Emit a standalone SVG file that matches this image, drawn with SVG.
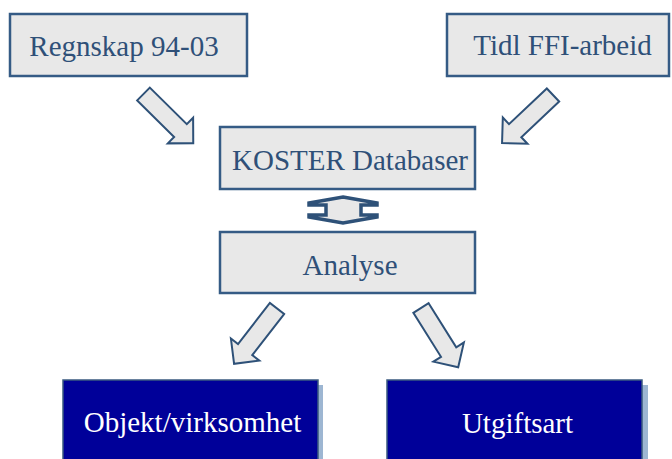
<svg xmlns="http://www.w3.org/2000/svg" width="672" height="459" viewBox="0 0 672 459">
<style>
.gbox{fill:#e8e8e8;stroke:#355b85;stroke-width:2.5}
.gtxt{font-size:29px;fill:#2f5078;text-anchor:middle}
.bbox{fill:#000099;stroke:#3a5a80;stroke-width:1.5}
.shadow{fill:#9db6d2}
.btxt{font-size:29px;fill:#ffffff;text-anchor:middle}
.arr{fill:#e8e8e8;stroke:#2e5178;stroke-width:2;stroke-linejoin:miter}
</style>
<defs>
<polygon id="blockarrow" points="0,-9 52,-9 52,-18 70,0 52,18 52,9 0,9"/>
</defs>
<g id="connectors">
<use href="#blockarrow" class="arr" transform="translate(143.5,94) rotate(44.7)"/>
<use href="#blockarrow" class="arr" transform="translate(553,95) rotate(136.7)"/>
<use href="#blockarrow" class="arr" transform="translate(277,308.5) rotate(127.8)"/>
<use href="#blockarrow" class="arr" transform="translate(421,308) rotate(57.9)"/>
<polygon class="arr" style="stroke-width:3.5" points="343,197 377,203 377,205 361,205 361,215 377,215 377,217 343,223 309,217 309,215 326,215 326,205 309,205 309,203"/>
</g>
<g id="regnskap">
<rect class="gbox" x="10" y="14" width="237" height="62"/>
<text class="gtxt" font-family="Liberation Serif, Times New Roman, serif" x="124" y="56" font-size="27">Regnskap 94-03</text>
</g>
<g id="tidl">
<rect class="gbox" x="447" y="14" width="222" height="62"/>
<text class="gtxt" font-family="Liberation Serif, Times New Roman, serif" x="562.5" y="55">Tidl FFI-arbeid</text>
</g>
<g id="koster">
<rect class="gbox" x="220" y="127" width="255" height="62"/>
<text class="gtxt" font-family="Liberation Serif, Times New Roman, serif" x="350" y="170">KOSTER Databaser</text>
</g>
<g id="analyse">
<rect class="gbox" x="220" y="232" width="255" height="61"/>
<text class="gtxt" font-family="Liberation Serif, Times New Roman, serif" x="350" y="275">Analyse</text>
</g>
<g id="objekt">
<rect class="shadow" x="68" y="385" width="255" height="80"/>
<rect class="bbox" x="63" y="380" width="255" height="80"/>
<text class="btxt" font-family="Liberation Serif, Times New Roman, serif" x="192.5" y="432">Objekt/virksomhet</text>
</g>
<g id="utgiftsart">
<rect class="shadow" x="392" y="385" width="256" height="80"/>
<rect class="bbox" x="387" y="380" width="255" height="80"/>
<text class="btxt" font-family="Liberation Serif, Times New Roman, serif" x="517.5" y="433">Utgiftsart</text>
</g>
</svg>
